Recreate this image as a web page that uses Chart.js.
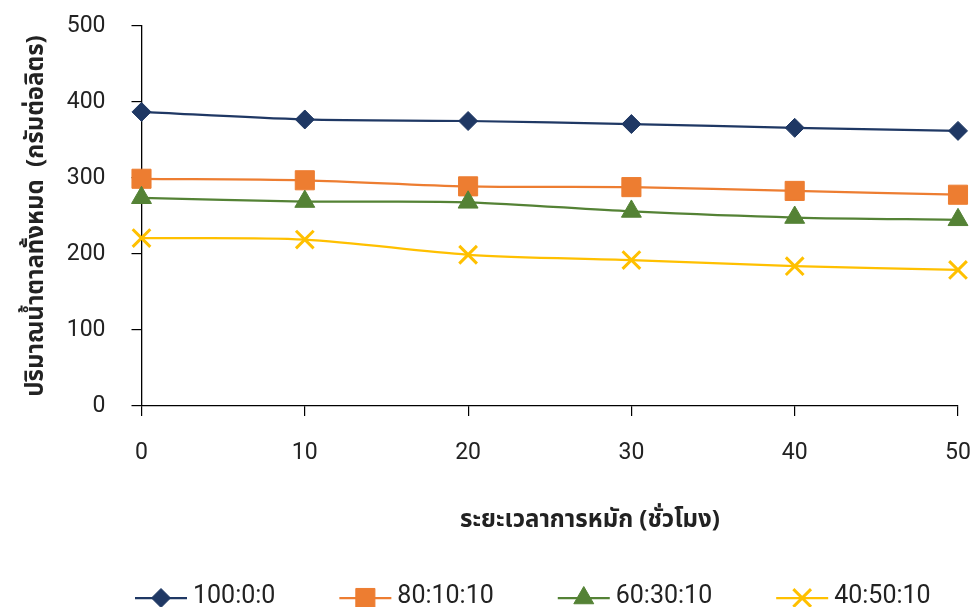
<!DOCTYPE html>
<html>
<head>
<meta charset="utf-8">
<script src="https://cdn.jsdelivr.net/npm/chart.js@4/dist/chart.umd.min.js"></script>
<style>
  html, body { margin: 0; padding: 0; background: #fff; }
  #wrap { width: 976px; height: 607px; }
</style>
</head>
<body>
<div id="wrap"><canvas id="c" width="976" height="607"></canvas></div>
<script>
// Fermentation time (hours) and total sugar (g/L) for each blend ratio
const hours = ['0', '10', '20', '30', '40', '50'];
const ratio100_0_0  = [387, 377, 375, 371, 366, 362];
const ratio80_10_10 = [299, 297, 289, 288, 283, 278];
const ratio60_30_10 = [274, 269, 268, 256, 248, 245];
const ratio40_50_10 = [221, 219, 199, 192, 184, 179];
const seriesNames = ['100:0:0', '80:10:10', '60:30:10', '40:50:10'];
const yTickValues = [0, 100, 200, 300, 400, 500];
const xTitle = 'ระยะเวลาการหมัก (ชั่วโมง)';
const yTitle = 'ปริมาณน้ำตาลทั้งหมด  (กรัมต่อลิตร)';

const THAI_FONT = '"Noto Sans Thai", "Leelawadee UI", Tahoma, "Noto Sans", "DejaVu Sans", sans-serif';
const NUM_FONT = 'Roboto, "Noto Sans", sans-serif';
const TEXT_COLOR = '#222';

const styles = [
  { color: '#1f3864', pointStyle: 'rectRot',  radius: 9.5,  borderWidth: 1 },
  { color: '#ed7d31', pointStyle: 'rect',     radius: 13.5, borderWidth: 1 },
  { color: '#548235', pointStyle: 'triangle', radius: 11.5, borderWidth: 1 },
  { color: '#ffc000', pointStyle: 'crossRot', radius: 12.5, borderWidth: 3 }
];
const seriesValues = [ratio100_0_0, ratio80_10_10, ratio60_30_10, ratio40_50_10];

const datasets = seriesValues.map((vals, i) => ({
  label: seriesNames[i],
  data: vals,
  borderColor: styles[i].color,
  backgroundColor: styles[i].color,
  borderWidth: 2.25,
  tension: 0.3,
  fill: false,
  pointStyle: styles[i].pointStyle,
  pointRadius: styles[i].radius,
  pointHoverRadius: styles[i].radius,
  pointBackgroundColor: styles[i].color,
  pointBorderColor: styles[i].color,
  pointBorderWidth: styles[i].borderWidth,
  order: seriesValues.length - i
}));

// Axis titles, drawn around the plot area
const axisTitles = {
  id: 'axisTitles',
  afterDraw(chart) {
    const { ctx, chartArea } = chart;
    ctx.save();
    ctx.fillStyle = TEXT_COLOR;
    ctx.textAlign = 'center';
    ctx.textBaseline = 'middle';
    ctx.font = 'bold 24px ' + THAI_FONT;
    ctx.fillText(xTitle, 590, 522);
    ctx.translate(38, (chartArea.top + chartArea.bottom) / 2);
    ctx.rotate(-Math.PI / 2);
    ctx.fillText(yTitle, 0, 0);
    ctx.restore();
  }
};

// Legend row: a short line with the series marker, then the name
const lineLegend = {
  id: 'lineLegend',
  afterDraw(chart) {
    const ctx = chart.ctx;
    const y = 598;
    const segLen = 52, textGap = 6, itemGap = 64;
    let x = 135;
    ctx.save();
    ctx.font = '25px ' + NUM_FONT;
    ctx.textBaseline = 'middle';
    ctx.textAlign = 'left';
    chart.data.datasets.forEach((ds) => {
      ctx.strokeStyle = ds.borderColor;
      ctx.lineWidth = ds.borderWidth;
      ctx.beginPath();
      ctx.moveTo(x, y);
      ctx.lineTo(x + segLen, y);
      ctx.stroke();
      ctx.fillStyle = ds.pointBackgroundColor;
      ctx.strokeStyle = ds.pointBorderColor;
      ctx.lineWidth = ds.pointBorderWidth;
      Chart.helpers.drawPoint(ctx, {
        pointStyle: ds.pointStyle, rotation: 0,
        radius: ds.pointRadius, borderWidth: ds.pointBorderWidth
      }, x + segLen / 2, y);
      ctx.fillStyle = TEXT_COLOR;
      const tx = x + segLen + textGap;
      ctx.fillText(ds.label, tx, y - 1);
      x = tx + ctx.measureText(ds.label).width + itemGap;
    });
    ctx.restore();
  }
};

new Chart(document.getElementById('c'), {
  type: 'line',
  data: { labels: hours, datasets },
  options: {
    responsive: false,
    animation: false,
    layout: { padding: { left: 0, right: 18, top: 26, bottom: 0 } },
    plugins: {
      legend: { display: false },
      tooltip: { enabled: false },
      title: { display: false }
    },
    scales: {
      x: {
        type: 'category',
        offset: false,
        grid: { display: true, drawOnChartArea: false, drawTicks: true, tickLength: 10, color: '#000', lineWidth: 1.2 },
        border: { display: true, color: '#000', width: 1.3 },
        ticks: { color: TEXT_COLOR, font: { family: NUM_FONT, size: 23 }, padding: 23, maxRotation: 0 },
        afterFit(scale) {
          scale.height = 201;
          scale.paddingLeft = 0;
          scale.paddingRight = 0;
        }
      },
      y: {
        min: 0,
        max: 500,
        afterBuildTicks(scale) { scale.ticks = yTickValues.map(v => ({ value: v })); },
        grid: { display: true, drawOnChartArea: false, drawTicks: true, tickLength: 10, color: '#000', lineWidth: 1.2 },
        border: { display: true, color: '#000', width: 1.3 },
        ticks: { color: TEXT_COLOR, font: { family: NUM_FONT, size: 23 }, padding: 26 },
        afterFit(scale) {
          scale.width = 141.5;
          scale.paddingTop = 0;
          scale.paddingBottom = 0;
        }
      }
    }
  },
  plugins: [axisTitles, lineLegend]
});
</script>
</body>
</html>
